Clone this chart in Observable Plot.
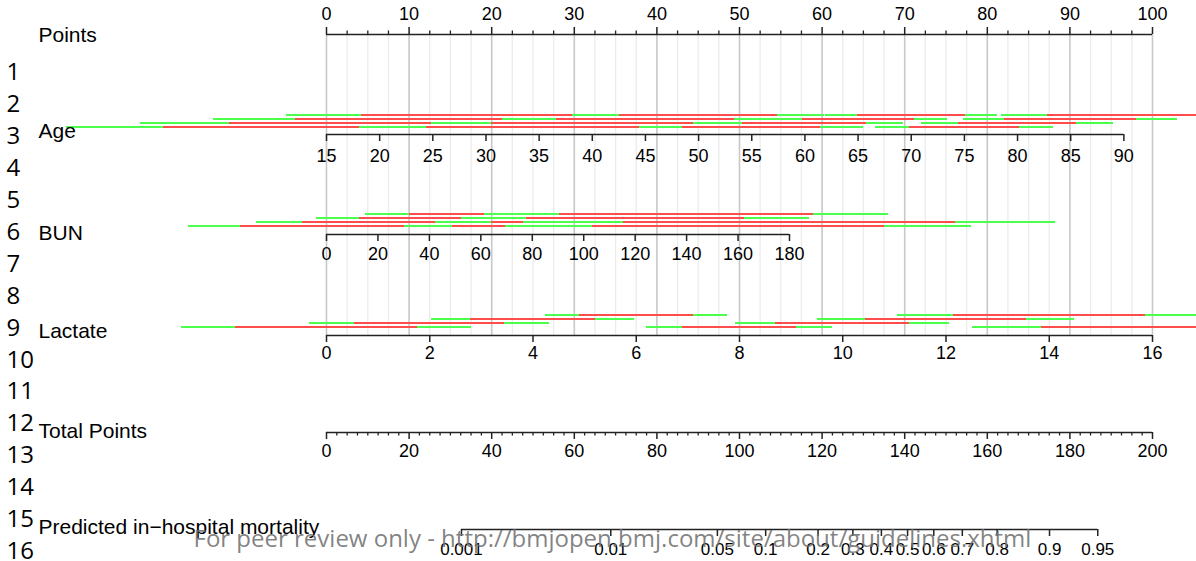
<!DOCTYPE html>
<html><head><meta charset="utf-8">
<script src="https://cdn.jsdelivr.net/npm/d3@7"></script>
<script src="https://cdn.jsdelivr.net/npm/@observablehq/plot@0.6"></script>
<style>
html,body{margin:0;padding:0;background:#fff;overflow:hidden;}
#chart{position:relative;width:1196px;height:561px;overflow:hidden;}
</style></head><body><div id="chart"></div>
<script>
// ---------------- data ----------------
const pointsTicks = [0,10,20,30,40,50,60,70,80,90,100];

const ageTicks = [15,20,25,30,35,40,45,50,55,60,65,70,75,80,85,90];
const agePointsPerYear = 1.2871;          // 90 years -> 96.5 points
// confidence bars (half-widths in points): inner = 70%, outer = 90%
const ageInner = [19.73,18.16,16.59,15.01,13.68,12.23,10.77,9.56,8.35,7.51,6.78,6.54,6.66,7.14,7.99,9.20];
const ageOuter = [31.48,28.93,26.51,24.09,21.79,19.49,17.31,15.25,13.56,11.99,10.77,10.41,10.77,11.62,12.95,14.77];

const bunTicks = [0,20,40,60,80,100,120,140,160,180];
const bunPointsPerUnit = 0.3114;          // 180 -> 56.05 points
const bunInner = [10.41,9.08,8.47,8.60,9.69,11.14,13.20,15.38,17.68,20.10];
const bunOuter = [16.71,14.65,13.68,13.92,15.50,17.92,21.07,24.46,28.21,32.20];

const lactateTicks = [0,2,4,6,8,10,12,14,16];
const lactatePointsPerUnit = 6.25;        // 16 -> 100 points
const lactateInner = [11.02,9.08,7.51,6.90,6.90,8.11,9.69,11.62,13.44];
const lactateOuter = [17.55,14.53,12.23,11.02,11.26,12.95,15.50,18.40,21.79];

const totalTicks = [0,20,40,60,80,100,120,140,160,180,200];

const mortTicks  = [0.001,0.01,0.05,0.1,0.2,0.3,0.4,0.5,0.6,0.7,0.8,0.9,0.95];
const mortLabels = ["0.001","0.01","0.05","0.1","0.2","0.3","0.4","0.5","0.6","0.7","0.8","0.9","0.95"];
const totalAtHalf = 140.7;     // total points where risk = 0.5
const totalPerLogit = 15.64;   // total points per logit unit

const varLabels = ["Points","Age","BUN","Lactate","Total Points","Predicted in\u2212hospital mortality"];
const lineNumbers = [1,2,3,4,5,6,7,8,9,10,11,12,13,14,15,16];
const watermark = "For peer review only - http://bmjopen.bmj.com/site/about/guidelines.xhtml";

// ---------------- layout & style ----------------
const GREEN = "#4dff4d", RED = "#ff4d4d", AXIS = "#222";
const Y = {points: 34, age: 134, bun: 234, lact: 335, total: 432, mort: 529};
const labelY = {points: 14, age: 156, bun: 254, lact: 353, total: 451, mort: 549};
const varLabelY = [35, 131, 233, 331, 431, 527];
const barBottom = {age: 126, bun: 225, lact: 326};
const FONT = "'Liberation Sans', Arial, Helvetica, sans-serif";

function ciSegments(ticks, origin, perUnit, inner, outer, bottomY) {
  const segs = [];
  ticks.forEach((v, i) => {
    const c = (v - origin) * perUnit;
    const y = bottomY - 4 * (i % 4);
    segs.push({x1: c - outer[i], x2: c + outer[i], y, color: GREEN});
    segs.push({x1: c - inner[i], x2: c + inner[i], y, color: RED});
  });
  return segs;
}

function axisMarks(values, labels, toX, y, ly, dir, fs) {
  const data = values.map((v, i) => ({x: toX(v), label: labels[i]}));
  const xs = data.map(d => d.x);
  return [
    Plot.ruleY([y], {x1: d3.min(xs), x2: d3.max(xs), y: d => d, stroke: AXIS, strokeWidth: 1.5}),
    Plot.ruleX(data, {x: "x", y1: y, y2: y + dir * 7, stroke: AXIS, strokeWidth: 1.5}),
    Plot.text(data, {x: "x", y: ly, text: "label", fontSize: fs, fontFamily: FONT, fill: "#000", lineAnchor: "middle"})
  ];
}

const ageX = v => (v - ageTicks[0]) * agePointsPerYear;
const bunX = v => (v - bunTicks[0]) * bunPointsPerUnit;
const lactX = v => (v - lactateTicks[0]) * lactatePointsPerUnit;
const totX = v => v / 2;
const mortX = p => totX(totalAtHalf + totalPerLogit * Math.log(p / (1 - p)));

const segs = [
  ...ciSegments(ageTicks, ageTicks[0], agePointsPerYear, ageInner, ageOuter, barBottom.age),
  ...ciSegments(bunTicks, bunTicks[0], bunPointsPerUnit, bunInner, bunOuter, barBottom.bun),
  ...ciSegments(lactateTicks, lactateTicks[0], lactatePointsPerUnit, lactateInner, lactateOuter, barBottom.lact)
];

const minorPts = d3.range(0, 100.001, 2.5).filter(v => v % 10 !== 0);
const minorTot = d3.range(0, 200.001, 2.5).filter(v => v % 20 !== 0);

const plot = Plot.plot({
  width: 1196, height: 561, margin: 0,
  x: {domain: [-326 / 8.26, 870 / 8.26], axis: null},
  y: {type: "identity", axis: null},
  color: {type: "identity"},
  style: {background: "#fff", fontFamily: FONT},
  marks: [
    // grid
    Plot.ruleX(minorPts, {x: d => d, y1: Y.points, y2: Y.lact, stroke: "#ececec", strokeWidth: 1.3}),
    Plot.ruleX(pointsTicks, {x: d => d, y1: Y.points, y2: Y.lact, stroke: "#c8c8c8", strokeWidth: 1.6}),
    // confidence bars
    Plot.ruleY(segs, {x1: "x1", x2: "x2", y: "y", stroke: "color", strokeWidth: 2, shapeRendering: "crispEdges"}),
    // Points axis (top)
    ...axisMarks(pointsTicks, pointsTicks.map(String), v => v, Y.points, labelY.points, -1, 18),
    Plot.ruleX(minorPts, {x: d => d, y1: Y.points, y2: Y.points - 3.5, stroke: AXIS, strokeWidth: 1.3}),
    // variable axes
    ...axisMarks(ageTicks, ageTicks.map(String), ageX, Y.age, labelY.age, 1, 18),
    ...axisMarks(bunTicks, bunTicks.map(String), bunX, Y.bun, labelY.bun, 1, 18),
    ...axisMarks(lactateTicks, lactateTicks.map(String), lactX, Y.lact, labelY.lact, 1, 18),
    ...axisMarks(totalTicks, totalTicks.map(String), totX, Y.total, labelY.total, 1, 18),
    Plot.ruleX(minorTot, {x: totX, y1: Y.total, y2: Y.total + 3.5, stroke: AXIS, strokeWidth: 1.3}),
    ...axisMarks(mortTicks, mortLabels, mortX, Y.mort, labelY.mort, 1, 17),
    // variable names
    Plot.text(varLabels, {text: d => d, y: (d, i) => varLabelY[i], frameAnchor: "left", dx: 38,
      textAnchor: "start", lineAnchor: "middle", fontSize: 21, fontFamily: FONT, fill: "#000"}),
    // line numbers
    Plot.text(lineNumbers, {text: d => String(d), y: d => 72 + (d - 1) * 31.93, frameAnchor: "left", dx: 6,
      textAnchor: "start", lineAnchor: "middle", fontSize: 24, fontFamily: "'Open Sans', sans-serif", fill: "#000"}),
    // watermark
    Plot.text([watermark], {text: d => d, y: 539, frameAnchor: "left", dx: 193, textAnchor: "start",
      lineAnchor: "middle", fontSize: 24, fontFamily: "'Open Sans', sans-serif", fill: "#727272",
      fillOpacity: 0.88})
  ]
});
document.getElementById("chart").appendChild(plot);
</script></body></html>
